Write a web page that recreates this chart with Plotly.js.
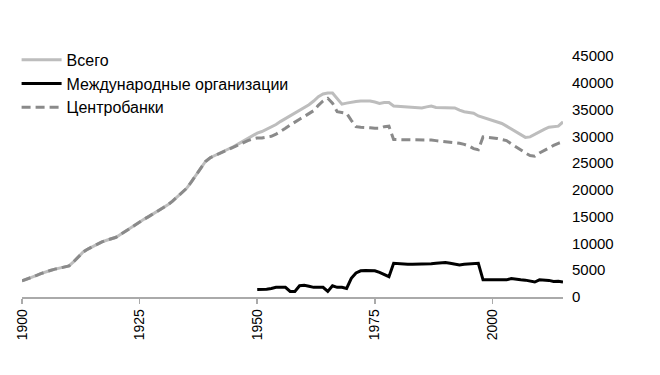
<!DOCTYPE html>
<html>
<head>
<meta charset="utf-8">
<script src="https://cdn.plot.ly/plotly-3.0.1.min.js"></script>
<style>html,body{margin:0;padding:0;background:#fff;}</style>
</head>
<body>
<div id="chart" style="width:660px;height:375px;"></div>
<script>
const seriesNames = ["Всего", "Международные организации", "Центробанки"];
const tickYears = [1900, 1925, 1950, 1975, 2000];

const yearsTotal = [];
for (let y = 1900; y <= 2015; y++) yearsTotal.push(y);

const totalValues = [
  3000, 3300, 3650, 4000, 4350, 4700, 4950, 5200, 5400, 5600,
  5800, 6600, 7500, 8400, 8950, 9450, 9900, 10300, 10600, 10900,
  11150, 11700, 12300, 12900, 13500, 14050, 14550, 15050, 15550, 16050,
  16550, 17200, 17900, 18700, 19500, 20300, 21500, 22700, 24000, 25300,
  26000, 26400, 26800, 27200, 27600, 28100, 28600, 29100, 29600, 30100,
  30600, 30900, 31300, 31700, 32200, 32800, 33300, 33800, 34300, 34800,
  35300, 35900, 36600, 37400, 37900, 38100, 38100, 37000, 36000, 36200,
  36400, 36500, 36600, 36650, 36600, 36400, 36150, 36300, 36300, 35650,
  35600, 35600, 35550, 35500, 35450, 35300, 35500, 35650, 35400, 35400,
  35350, 35300, 35300, 34900, 34600, 34450, 34300, 33800, 33500, 33300,
  33000, 32700, 32400, 31900, 31400, 30900, 30400, 29800, 29900, 30400,
  30900, 31300, 31700, 31800, 31900, 32700
];

const centralBankValues = [
  3000, 3300, 3650, 4000, 4350, 4700, 4950, 5200, 5400, 5600,
  5800, 6600, 7500, 8400, 8950, 9450, 9900, 10300, 10600, 10900,
  11150, 11700, 12300, 12900, 13500, 14050, 14550, 15050, 15550, 16050,
  16550, 17200, 17900, 18700, 19500, 20300, 21500, 22700, 24000, 25300,
  26000, 26400, 26800, 27200, 27600, 28100, 28500, 28900, 29200, 29500,
  29700, 29700, 29800, 30000, 30400, 30900, 31500, 32100, 32700, 33200,
  33700, 34200, 34800, 35800, 36600, 37100, 36200, 34600, 34400, 34300,
  33000, 31800, 31700, 31700, 31600, 31500, 31500, 31800, 31900, 29400,
  29400, 29350, 29300, 29300, 29300, 29350, 29400, 29300, 29200, 29100,
  29000, 28950, 28850, 28700, 28500, 28200, 27700, 27500, 29900, 29800,
  29800, 29600, 29400, 29200, 28600, 28000, 27400, 26900, 26400, 26300,
  26900, 27400, 27900, 28300, 28700, 29000
];

const yearsIntl = [];
for (let y = 1950; y <= 2015; y++) yearsIntl.push(y);

const intlValues = [
  1400, 1400, 1450, 1600, 1800, 1800, 1800, 1050, 1050, 2100,
  2200, 2000, 1800, 1800, 1800, 1050, 2100, 1800, 1800, 1600,
  3500, 4500, 4900, 4950, 4950, 4900, 4600, 4200, 3800, 6300,
  6200, 6150, 6100, 6100, 6100, 6100, 6100, 6200, 6300, 6350,
  6450, 6300, 6100, 6000, 6100, 6200, 6300, 6300, 3200, 3200,
  3200, 3200, 3200, 3200, 3450, 3300, 3200, 3150, 3000, 2800,
  3200, 3150, 3100, 2900, 2950, 2800
];

const traces = [
  {x: yearsTotal, y: totalValues, name: seriesNames[0], type: "scatter", mode: "lines",
   line: {color: "#bdbdbd", width: 3}, legendrank: 1},
  {x: yearsIntl, y: intlValues, name: seriesNames[1], type: "scatter", mode: "lines",
   line: {color: "#000000", width: 3}, legendrank: 2},
  {x: yearsTotal, y: centralBankValues, name: seriesNames[2], type: "scatter", mode: "lines",
   line: {color: "#8a8a8a", width: 3, dash: "9px,5px"}, legendrank: 3}
];

const layout = {
  width: 660, height: 375,
  margin: {l: 22, r: 97, t: 56, b: 78},
  paper_bgcolor: "#ffffff", plot_bgcolor: "#ffffff",
  font: {family: "Liberation Sans, Arial, sans-serif", color: "#000", size: 15},
  showlegend: true,
  legend: {x: -0.01, y: 1.055, xanchor: "left", yanchor: "top",
           bgcolor: "rgba(0,0,0,0)", font: {size: 16, color: "#000"},
           itemwidth: 40, tracegroupgap: 0},
  xaxis: {range: [1900, 2015], tickvals: tickYears, ticktext: tickYears.map(String),
          tickangle: -90, showgrid: false, zeroline: false,
          showline: true, linecolor: "#aaaaaa", linewidth: 1.5,
          ticks: "outside", ticklen: 5, tickcolor: "#aaaaaa", tickwidth: 1.5,
          tickfont: {size: 14, color: "#000"}},
  yaxis: {range: [0, 45000], side: "right", dtick: 5000, showgrid: false, zeroline: false,
          showline: false, ticks: "", tickformat: "d",
          tickfont: {size: 15, color: "#000"}, ticklabelstandoff: 8}
};

Plotly.newPlot("chart", traces, layout, {displayModeBar: false, staticPlot: true});
</script>
</body>
</html>
